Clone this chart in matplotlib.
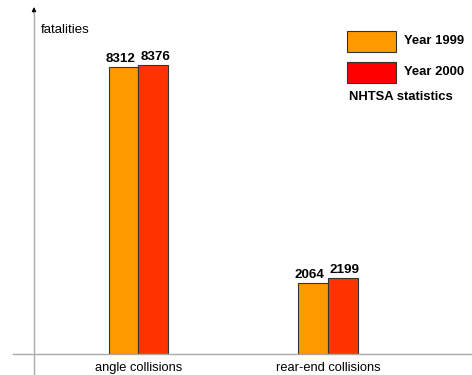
import matplotlib.pyplot as plt
from matplotlib.patches import Rectangle
from matplotlib.lines import Line2D
import numpy as np

plt.rcParams['font.family'] = ['Liberation Sans', 'DejaVu Sans']

categories = ['angle collisions', 'rear-end collisions']
years = ['Year 1999', 'Year 2000']
values_1999 = [8312, 2064]
values_2000 = [8376, 2199]

bar_colors = ['#ff9900', '#ff3300']
legend_colors = ['#ff9900', '#ff0000']

W, H = 472, 375
fig = plt.figure(figsize=(W / 100, H / 100), dpi=100)
ax = fig.add_axes([34 / W, 21 / H, (W - 34) / W, (354 - 8) / H])

x = np.arange(len(categories))
width = 0.156
b1 = ax.bar(x - width / 2, values_1999, width, color=bar_colors[0], edgecolor='#333333', linewidth=0.8)
b2 = ax.bar(x + width / 2, values_2000, width, color=bar_colors[1], edgecolor='#333333', linewidth=0.8)

# value labels, nudged apart so they don't collide
for bars, dx in ((b1, -2.5), (b2, 1.5)):
    for r in bars:
        ax.annotate(f'{int(r.get_height())}', (r.get_x() + r.get_width() / 2, r.get_height()),
                    xytext=(dx, 1.5), textcoords='offset points',
                    ha='center', va='bottom', fontsize=9.6, fontweight='bold')

ax.set_xlim(-0.551, 1.760)
ax.set_ylim(0, 10030)
ax.set_xticks(x)
ax.set_xticklabels(categories, fontsize=9.3)
ax.tick_params(axis='x', length=0, pad=6)
ax.set_yticks([])
for s in ax.spines.values():
    s.set_visible(False)

# axis lines
fig.add_artist(Line2D([13 / W, 1], [21 / H, 21 / H], color='#aaaaaa', lw=1))
fig.add_artist(Line2D([34 / W, 34 / W], [0, 1 - 12 / H], color='#aaaaaa', lw=1))
ax.annotate('', xy=(34 / W, 1 - 7 / H), xytext=(34 / W, 1 - 13 / H),
            xycoords='figure fraction', textcoords='figure fraction',
            arrowprops=dict(arrowstyle='-|>', color='black', lw=0.8,
                            mutation_scale=6, shrinkA=0, shrinkB=0))
fig.text(41 / W, 1 - 30 / H, 'fatalities', fontsize=9.5, va='center', ha='left')

# legend
for i, (lab, c) in enumerate(zip(years, legend_colors)):
    y0 = 31 + i * 31
    fig.add_artist(Rectangle((347 / W, 1 - (y0 + 21) / H), 49 / W, 21 / H,
                             facecolor=c, edgecolor='#333333', lw=0.8))
    fig.text(404 / W, 1 - (y0 + 10) / H, lab, fontsize=9.4, fontweight='bold',
             va='center', ha='left')
fig.text(349 / W, 1 - 97 / H, 'NHTSA statistics', fontsize=9.4, fontweight='bold',
         va='center', ha='left')

fig.savefig('out.png', dpi=100)
